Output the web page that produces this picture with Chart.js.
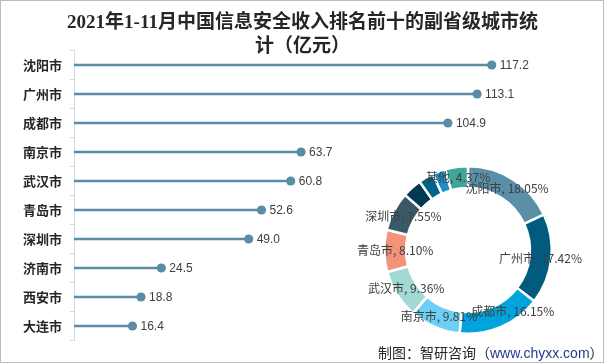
<!DOCTYPE html>
<html>
<head>
<meta charset="utf-8">
<script src="https://cdn.jsdelivr.net/npm/chart.js@4.4.1/dist/chart.umd.min.js"></script>
<style>
  html, body { margin: 0; padding: 0; background: #ffffff; }
  body { width: 605px; height: 364px; position: relative; overflow: hidden; }
  #frame { position: absolute; left: 0; top: 0; width: 602px; height: 361px; border: 1px solid #bdbdbd; }
  #title { position: absolute; left: 0; top: 10px; width: 605px; text-align: center;
           font-family: "Liberation Serif", "DejaVu Serif", "Noto Sans CJK SC", serif; font-weight: bold;
           font-size: 19px; line-height: 24px; color: #262626; }
  #source { position: absolute; left: 378px; top: 343px; font-family: "Noto Sans CJK SC", sans-serif;
            font-size: 14px; line-height: 19px; color: #262626; white-space: nowrap; }
  #source span { color: #1f3c8c; font-family: "Liberation Sans", Arial, sans-serif; }
  #bar { position: absolute; left: 0; top: 0; }
  #donut { position: absolute; left: 338px; top: 149.5px; }
</style>
</head>
<body>
<div id="frame"></div>
<canvas id="bar" width="605" height="364"></canvas>
<canvas id="donut" width="260" height="200"></canvas>
<div id="title">2021年1-11月中国信息安全收入排名前十的副省级城市统<br>计（亿元）</div>
<div id="source">制图：智研咨询（<span>www.chyxx.com</span>）</div>
<script>
// ---- data ----
const cities = ['沈阳市','广州市','成都市','南京市','武汉市','青岛市','深圳市','济南市','西安市','大连市'];
const revenue = [117.2, 113.1, 104.9, 63.7, 60.8, 52.6, 49.0, 24.5, 18.8, 16.4];
const shareNames = ['沈阳市','广州市','成都市','南京市','武汉市','青岛市','深圳市','济南市','西安市','大连市','其他'];
const sharePercent = [18.05, 17.42, 16.15, 9.81, 9.36, 8.10, 7.55, 3.77, 2.90, 2.53, 4.37];
const shareLabelShown = [true, true, true, true, true, true, true, false, false, false, true];

// ---- styles ----
const lineColor = '#5a8ca6';
const sliceColors = ['#5b8fa8','#005b7f','#00a3db','#6dcff6','#a3d9d5','#f2937a','#3a5967','#003a50','#006387','#1b91c8','#40a59b'];
const labelNudge = { 2: [16, -6] };

const valueLabels = {
  id: 'valueLabels',
  afterDatasetsDraw(chart) {
    const meta = chart.getDatasetMeta(1);
    const ctx = chart.ctx;
    ctx.save();
    ctx.font = '12px "Liberation Sans", "DejaVu Sans", sans-serif';
    ctx.fillStyle = '#404040';
    ctx.textAlign = 'left';
    ctx.textBaseline = 'middle';
    meta.data.forEach((pt, i) => {
      ctx.fillText(revenue[i].toFixed(1), pt.x + 8, pt.y + 0.5);
    });
    ctx.restore();
  }
};

new Chart(document.getElementById('bar'), {
  data: {
    labels: cities,
    datasets: [
      { type: 'bar', data: revenue, backgroundColor: lineColor, barThickness: 1.6, borderWidth: 0 },
      { type: 'line', data: revenue, showLine: false, pointRadius: 4.6, pointBackgroundColor: lineColor,
        pointBorderWidth: 0, borderColor: lineColor }
    ]
  },
  options: {
    indexAxis: 'y',
    responsive: false,
    animation: false,
    layout: { padding: { left: 0, right: 32, top: 50.5, bottom: 23.5 } },
    plugins: { legend: { display: false }, tooltip: { enabled: false }, title: { display: false } },
    scales: {
      x: { display: false, min: 0, max: 140 },
      y: {
        type: 'category',
        offset: true,
        grid: { offset: true, drawOnChartArea: false, drawTicks: true, tickLength: 4, color: '#d9d9d9' },
        border: { display: true, color: '#d9d9d9', width: 1 },
        ticks: { color: '#262626', padding: 8,
                 font: { family: '"Noto Sans CJK SC", sans-serif', size: 13, weight: 'bold' } },
        afterFit(scale) { scale.width = 74; }
      }
    }
  },
  plugins: [valueLabels]
});

const donutLabels = {
  id: 'donutLabels',
  afterDatasetsDraw(chart) {
    const meta = chart.getDatasetMeta(0);
    const ctx = chart.ctx;
    ctx.save();
    ctx.font = '12px "Noto Sans CJK SC", sans-serif';
    ctx.fillStyle = '#404040';
    ctx.textAlign = 'center';
    ctx.textBaseline = 'middle';
    meta.data.forEach((arc, i) => {
      if (!shareLabelShown[i]) return;
      const p = arc.tooltipPosition();
      const n = labelNudge[i] || [0, 0];
      ctx.fillText(shareNames[i] + ', ' + sharePercent[i].toFixed(2) + '%', p.x + n[0], p.y + n[1]);
    });
    ctx.restore();
  }
};

new Chart(document.getElementById('donut'), {
  type: 'doughnut',
  data: {
    labels: shareNames,
    datasets: [{ data: sharePercent, backgroundColor: sliceColors, borderColor: '#ffffff', borderWidth: 2.5 }]
  },
  options: {
    responsive: false,
    animation: false,
    cutout: '74%',
    layout: { padding: { left: 45, right: 45, top: 15, bottom: 15 } },
    plugins: { legend: { display: false }, tooltip: { enabled: false } }
  },
  plugins: [donutLabels]
});
</script>
</body>
</html>
